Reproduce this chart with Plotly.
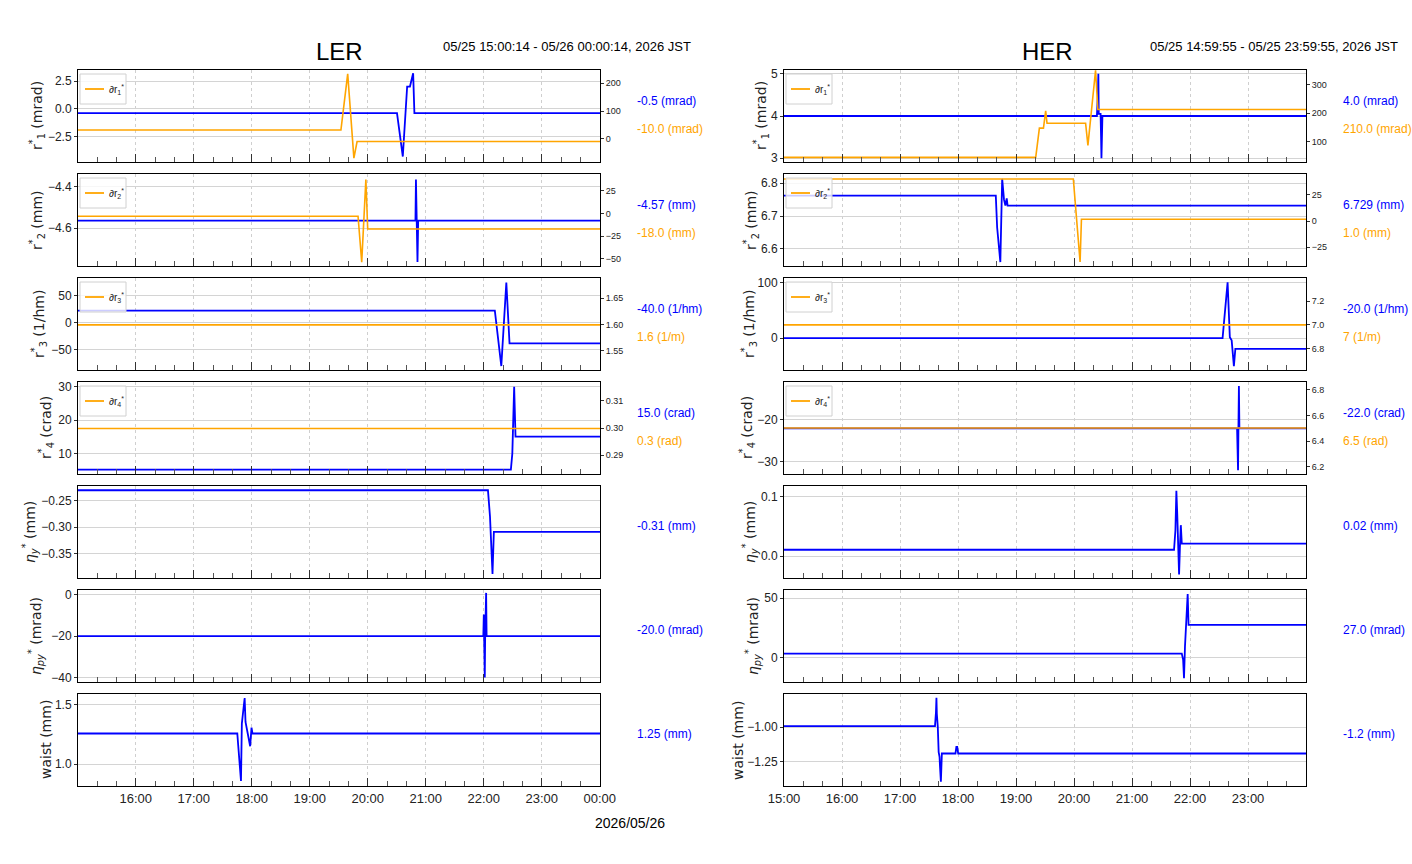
import plotly.graph_objects as go

W, H = 1412, 864

# ---------------- data ----------------
# LER  (blue -> left axis, orange -> right axis)
LER_R1_T = ["15:00:14", "20:30:14", "20:36:14", "20:40:44", "20:43:38", "20:46:56", "20:48:14", "00:00:14"]
LER_R1_V = [-0.4, -0.4, -4.3, 2.0, 2.0, 3.2, -0.4, -0.4]
LER_DR1_T = ["15:00:14", "19:32:14", "19:39:14", "19:45:38", "19:48:56", "00:00:14"]
LER_DR1_V = [32, 32, 234, -69, -9.5, -9.5]

LER_R2_T = ["15:00:14", "20:49:20", "20:49:50", "20:50:20", "20:50:44", "20:51:26", "20:52:08", "00:00:14"]
LER_R2_V = [-4.564, -4.564, -4.366, -4.564, -4.62, -4.764, -4.564, -4.564]
LER_DR2_T = ["15:00:14", "19:49:56", "19:53:44", "19:58:02", "19:59:56", "00:00:14"]
LER_DR2_V = [-3, -3, -53.6, 37.5, -17, -17]

LER_R3_T = ["15:00:14", "22:11:26", "22:18:08", "22:23:20", "22:26:38", "00:00:14"]
LER_R3_V = [22.3, 22.3, -80, 74, -38, -38]
LER_DR3_T = ["15:00:14", "00:00:14"]
LER_DR3_V = [1.599, 1.599]

LER_R4_T = ["15:00:14", "22:28:02", "22:29:32", "22:30:26", "22:31:26", "22:32:50", "00:00:14"]
LER_R4_V = [5.2, 5.2, 10, 25, 30, 15.1, 15.1]
LER_DR4_T = ["15:00:14", "00:00:14"]
LER_DR4_V = [0.2998, 0.2998]

LER_EY_T = ["15:00:14", "22:04:20", "22:06:26", "22:07:50", "22:09:02", "22:10:26", "00:00:14"]
LER_EY_V = [-0.23, -0.23, -0.28, -0.345, -0.389, -0.309, -0.309]

LER_EPY_T = ["15:00:14", "21:59:32", "22:00:02", "22:00:32", "22:01:02", "22:01:26", "22:02:26", "22:02:56", "00:00:14"]
LER_EPY_V = [-20, -20, -9.5, -20, -40, -20, 1, -20, -20]

LER_W_T = ["15:00:14", "17:45:02", "17:45:56", "17:46:56", "17:47:50", "17:48:50", "17:49:44", "17:51:14",
           "17:52:38", "17:53:32", "17:55:26", "17:56:56", "17:58:20", "17:59:44", "18:00:44", "00:00:14"]
LER_W_V = [1.258, 1.258, 1.161, 1.05, 0.953, 0.856, 1.342, 1.453, 1.558, 1.356, 1.26, 1.217, 1.15, 1.308, 1.258, 1.258]

# HER
HER_R1_T = ["14:59:55", "20:23:37", "20:24:37", "20:25:07", "20:25:31", "20:27:25", "20:27:55", "20:28:19", "20:29:19", "23:59:55"]
HER_R1_V = [4.0, 4.0, 4.5, 5.0, 4.05, 4.05, 3.5, 3.0, 4.0, 4.0]
HER_DR1_T = ["14:59:55", "19:20:19", "19:24:07", "19:28:19", "19:30:37", "19:32:01", "20:11:55", "20:14:19", "20:22:13", "20:24:37", "23:59:55"]
HER_DR1_V = [46, 46, 148, 148, 208, 165, 165, 88, 350, 213, 213]

HER_R2_T = ["14:59:55", "18:39:01", "18:40:25", "18:41:49", "18:43:43", "18:45:37", "18:47:31", "18:48:55", "18:50:19", "18:51:13", "23:59:55"]
HER_R2_V = [6.762, 6.762, 6.665, 6.61, 6.56, 6.813, 6.75, 6.732, 6.754, 6.732, 6.732]
HER_DR2_T = ["14:59:55", "19:59:13", "20:01:31", "20:03:55", "20:06:13", "20:07:37", "23:59:55"]
HER_DR2_V = [40, 40, 14, -17, -39, 1.6, 1.6]

HER_R3_T = ["14:59:55", "22:33:37", "22:38:49", "22:41:07", "22:43:01", "22:45:19", "22:46:49", "23:59:55"]
HER_R3_V = [0, 0, 101, 1.8, -4, -50.6, -19.6, -19.6]
HER_DR3_T = ["14:59:55", "23:59:55"]
HER_DR3_V = [7.0, 7.0]

HER_R4_T = ["14:59:55", "22:48:37", "22:49:07", "22:49:37", "22:50:01", "22:50:31", "22:51:01", "23:59:55"]
HER_R4_V = [-22, -22, -27, -32, -22, -11.9, -22, -22]
HER_DR4_T = ["14:59:55", "23:59:55"]
HER_DR4_V = [6.502, 6.502]

HER_EY_T = ["14:59:55", "21:43:25", "21:44:49", "21:45:49", "21:46:43", "21:47:37", "21:48:37", "21:49:31", "21:50:25", "21:51:25", "23:59:55"]
HER_EY_V = [0.0106, 0.0106, 0.043, 0.11, 0.071, 0.016, -0.031, 0.016, 0.052, 0.021, 0.021]

HER_EPY_T = ["14:59:55", "21:51:25", "21:52:49", "21:53:43", "21:54:43", "21:55:37", "21:56:31", "21:57:31", "21:58:25", "23:59:55"]
HER_EPY_V = [3.1, 3.1, -2.2, -17.6, 8.9, 22.9, 36.9, 53.6, 27.4, 27.4]

HER_W_T = ["14:59:55", "17:36:07", "17:37:07", "17:37:37", "17:38:01", "17:39:01", "17:39:55", "17:40:49",
           "17:41:19", "17:42:13", "17:43:13", "17:57:19", "17:58:13", "17:59:07", "18:00:07", "23:59:55"]
HER_W_V = [-0.993, -0.993, -0.893, -0.79, -0.905, -1.0, -1.18, -1.214, -1.286, -1.393, -1.19, -1.19, -1.143, -1.143, -1.19, -1.19]

# text labels
Y_TITLES = ["r<sup>*</sup><sub>1</sub> (mrad)", "r<sup>*</sup><sub>2</sub> (mm)", "r<sup>*</sup><sub>3</sub> (1/hm)",
            "r<sup>*</sup><sub>4</sub> (crad)", "<i>η</i><sub><i>y</i></sub><sup>*</sup> (mm)",
            "<i>η</i><sub><i>py</i></sub><sup>*</sup> (mrad)", "waist (mm)"]
LEGEND_LABELS = ["∂r<sub>1</sub><sup>*</sup>", "∂r<sub>2</sub><sup>*</sup>", "∂r<sub>3</sub><sup>*</sup>", "∂r<sub>4</sub><sup>*</sup>"]
LER_BLUE_TXT = ["-0.5 (mrad)", "-4.57 (mm)", "-40.0 (1/hm)", "15.0 (crad)", "-0.31 (mm)", "-20.0 (mrad)", "1.25 (mm)"]
LER_ORANGE_TXT = ["-10.0 (mrad)", "-18.0 (mm)", "1.6 (1/m)", "0.3 (rad)"]
HER_BLUE_TXT = ["4.0 (mrad)", "6.729 (mm)", "-20.0 (1/hm)", "-22.0 (crad)", "0.02 (mm)", "27.0 (mrad)", "-1.2 (mm)"]
HER_ORANGE_TXT = ["210.0 (mrad)", "1.0 (mm)", "7 (1/m)", "6.5 (rad)"]
LER_RANGE_TXT = "05/25 15:00:14 - 05/26 00:00:14, 2026 JST"
HER_RANGE_TXT = "05/25 14:59:55 - 05/25 23:59:55, 2026 JST"
LER_START, LER_END = "2026-05-25 15:00:14", "2026-05-26 00:00:14"
HER_START, HER_END = "2026-05-25 14:59:55", "2026-05-25 23:59:55"

# ---------------- styling / layout ----------------
BLUE = "#0000ff"
ORANGE = "#ffa500"
COND = "Liberation Sans Narrow, Liberation Sans, Arial, sans-serif"
SANS = "DejaVu Sans, sans-serif"


def ts(lst):
    return [("2026-05-26 " if int(t[:2]) < 12 else "2026-05-25 ") + t for t in lst]


LER = dict(left=78, start=LER_START, end=LER_END, blue_txt=LER_BLUE_TXT, orange_txt=LER_ORANGE_TXT,
           series=[(LER_R1_T, LER_R1_V, LER_DR1_T, LER_DR1_V), (LER_R2_T, LER_R2_V, LER_DR2_T, LER_DR2_V),
                   (LER_R3_T, LER_R3_V, LER_DR3_T, LER_DR3_V), (LER_R4_T, LER_R4_V, LER_DR4_T, LER_DR4_V),
                   (LER_EY_T, LER_EY_V, None, None), (LER_EPY_T, LER_EPY_V, None, None), (LER_W_T, LER_W_V, None, None)],
           yr=[[-4.79, 3.49], [-4.783, -4.339], [-87.3, 82.5], [3.9, 31.4], [-0.3969, -0.2219], [-42.2, 2.4], [0.814, 1.592]],
           y2r=[[-83, 248], [-57.9, 43.6], [1.5125, 1.689], [0.2831, 0.3169]],
           ydt=[(2.5, ".1f"), (0.2, ".1f"), (50, "d"), (10, "d"), (0.05, ".2f"), (20, "d"), (0.5, ".1f")],
           y2dt=[(100, "d"), (25, "d"), (0.05, ".2f"), (0.01, ".2f")],
           title_x=[37, 37, 39, 46, 30, 36, 46])
HER = dict(left=784, start=HER_START, end=HER_END, blue_txt=HER_BLUE_TXT, orange_txt=HER_ORANGE_TXT,
           series=[(HER_R1_T, HER_R1_V, HER_DR1_T, HER_DR1_V), (HER_R2_T, HER_R2_V, HER_DR2_T, HER_DR2_V),
                   (HER_R3_T, HER_R3_V, HER_DR3_T, HER_DR3_V), (HER_R4_T, HER_R4_V, HER_DR4_T, HER_DR4_V),
                   (HER_EY_T, HER_EY_V, None, None), (HER_EPY_T, HER_EPY_V, None, None), (HER_W_T, HER_W_V, None, None)],
           yr=[[2.91, 5.09], [6.548, 6.828], [-57.7, 108.9], [-32.9, -10.94], [-0.037, 0.118], [-20.9, 57], [-1.424, -0.762]],
           y2r=[[29.8, 351], [-42.8, 44.7], [6.621, 7.393], [6.143, 6.862]],
           ydt=[(1, "d"), (0.1, ".1f"), (100, "d"), (10, "d"), (0.1, ".1f"), (50, "d"), (0.25, ".2f")],
           y2dt=[(100, "d"), (25, "d"), (0.2, ".1f"), (0.2, ".1f")],
           title_x=[761, 751, 749, 747, 750, 753, 738])


def aid(kind, n):
    return kind if n == 1 else f"{kind}{n}"


fig = go.Figure()
layout = dict(width=W, height=H, margin=dict(l=0, r=0, t=0, b=0, autoexpand=False), paper_bgcolor="white",
              plot_bgcolor="white", showlegend=False)
shapes, annotations = [], []
n = 0
nright = 15
PW, PH = 522, 92
for side in (LER, HER):
    left = side["left"]
    for row in range(7):
        n += 1
        top = 70 + 104 * row
        bot = top + PH
        xd = [left / W, (left + PW) / W]
        yd = [1 - bot / H, 1 - top / H]
        xa = dict(domain=xd, anchor=aid("y", n), type="date", range=[side["start"], side["end"]],
                  automargin=False, showline=True, mirror=True, linecolor="black", linewidth=1,
                  ticks="inside", ticklen=8, tickcolor="#333", tickwidth=1,
                  dtick=3600000, tick0="2026-05-25 00:00:00", tickformat="%H:%M",
                  showticklabels=(row == 6), tickfont=dict(family=COND, size=13, color="#222"),
                  showgrid=True, gridcolor="#cfcfcf", griddash="dot", gridwidth=1, zeroline=False,
                  minor=dict(dtick=1200000, tick0="2026-05-25 00:00:00", ticks="inside", ticklen=5,
                             tickcolor="#555", showgrid=False))
        dt, fmt = side["ydt"][row]
        ya = dict(domain=yd, anchor=aid("x", n), range=side["yr"][row], dtick=dt, tick0=0, tickformat=fmt,
                  automargin=False, showline=True, mirror=True, linecolor="black", linewidth=1,
                  ticks="outside", ticklen=3, tickcolor="#333",
                  tickfont=dict(family=COND, size=12, color="#222"),
                  showgrid=True, gridcolor="#d4d4d4", gridwidth=1, zeroline=False)
        layout[aid("xaxis", n)] = xa
        layout[aid("yaxis", n)] = ya
        bt, bv, ot, ov = side["series"][row]
        fig.add_trace(go.Scatter(x=ts(bt), y=bv, mode="lines", line=dict(color=BLUE, width=1.8),
                                 xaxis=aid("x", n), yaxis=aid("y", n), showlegend=False))
        # y title
        annotations.append(dict(text=Y_TITLES[row], x=side["title_x"][row] / W, y=1 - (top + PH / 2) / H,
                                xref="paper", yref="paper", textangle=-90, showarrow=False,
                                font=dict(family=SANS, size=14, color="#222"), xanchor="center", yanchor="middle"))
        tx = (left + 557) / W
        if ot is not None:
            dt2, fmt2 = side["y2dt"][row]
            layout[aid("yaxis", nright)] = dict(overlaying=aid("y", n), side="right", anchor=aid("x", n),
                                                range=side["y2r"][row], dtick=dt2, tick0=0, tickformat=fmt2,
                                                automargin=False, showgrid=False, zeroline=False, showline=False,
                                                ticks="outside", ticklen=3, tickcolor="#333",
                                                tickfont=dict(family=COND, size=9, color="#222"))
            fig.add_trace(go.Scatter(x=ts(ot), y=ov, mode="lines", line=dict(color=ORANGE, width=1.6),
                                     xaxis=aid("x", n), yaxis=aid("y", nright), showlegend=False))
            nright += 1
            # legend box
            shapes.append(dict(type="rect", xref="paper", yref="paper", layer="above",
                               x0=(left + 2) / W, x1=(left + 48) / W, y0=1 - (top + 34) / H, y1=1 - (top + 4) / H,
                               line=dict(color="#d0d0d0", width=1), fillcolor="rgba(255,255,255,0.8)"))
            shapes.append(dict(type="line", xref="paper", yref="paper", layer="above",
                               x0=(left + 7) / W, x1=(left + 26) / W, y0=1 - (top + 19) / H, y1=1 - (top + 19) / H,
                               line=dict(color=ORANGE, width=1.8)))
            annotations.append(dict(text=LEGEND_LABELS[row], x=(left + 29) / W, y=1 - (top + 19) / H,
                                    xref="paper", yref="paper", showarrow=False, xanchor="left", yanchor="middle",
                                    font=dict(family=COND, size=10, color="#222")))
            annotations.append(dict(text=side["blue_txt"][row], x=tx, y=1 - (top + 31) / H, xref="paper",
                                    yref="paper", showarrow=False, xanchor="left", yanchor="middle",
                                    font=dict(family=COND, size=12, color=BLUE)))
            annotations.append(dict(text=side["orange_txt"][row], x=tx, y=1 - (top + 59) / H, xref="paper",
                                    yref="paper", showarrow=False, xanchor="left", yanchor="middle",
                                    font=dict(family=COND, size=12, color=ORANGE)))
        else:
            annotations.append(dict(text=side["blue_txt"][row], x=tx, y=1 - (top + 40) / H, xref="paper",
                                    yref="paper", showarrow=False, xanchor="left", yanchor="middle",
                                    font=dict(family=COND, size=12, color=BLUE)))

# titles and time ranges
annotations += [
    dict(text="LER", x=339 / W, y=1 - 51 / H, xref="paper", yref="paper", showarrow=False,
         font=dict(family=COND, size=24, color="black"), xanchor="center", yanchor="middle"),
    dict(text=LER_RANGE_TXT, x=693 / W, y=1 - 47 / H, xref="paper", yref="paper", showarrow=False,
         font=dict(family=COND, size=13, color="black"), xanchor="right", yanchor="middle"),
    dict(text="HER", x=1047 / W, y=1 - 51 / H, xref="paper", yref="paper", showarrow=False,
         font=dict(family=COND, size=24, color="black"), xanchor="center", yanchor="middle"),
    dict(text=HER_RANGE_TXT, x=1400 / W, y=1 - 47 / H, xref="paper", yref="paper", showarrow=False,
         font=dict(family=COND, size=13, color="black"), xanchor="right", yanchor="middle"),
    dict(text="2026/05/26", x=630 / W, y=1 - 823 / H, xref="paper", yref="paper", showarrow=False,
         font=dict(family=COND, size=14, color="black"), xanchor="center", yanchor="middle"),
]
layout["shapes"] = shapes
layout["annotations"] = annotations
fig.update_layout(**layout)
fig.write_html("out.html")
